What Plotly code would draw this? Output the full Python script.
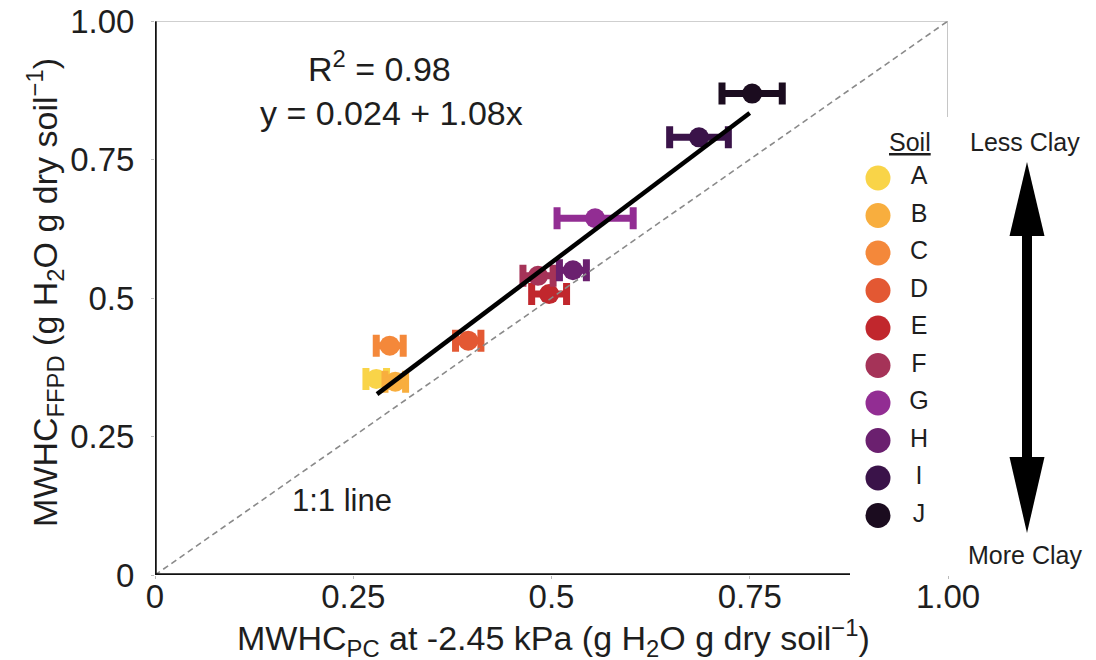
import plotly.graph_objects as go

# ---------------- data ----------------
soils = ["A", "B", "C", "D", "E", "F", "G", "H", "I", "J"]
mwhc_pc = [0.279, 0.303, 0.296, 0.395, 0.497, 0.483, 0.555, 0.527, 0.686, 0.753]
mwhc_ffpd = [0.354, 0.349, 0.414, 0.423, 0.507, 0.540, 0.644, 0.550, 0.790, 0.869]
mwhc_pc_err = [0.013, 0.013, 0.017, 0.016, 0.022, 0.019, 0.048, 0.017, 0.037, 0.038]
soil_colors = ["#F9D448", "#F8AE3E", "#F4883A", "#E35833", "#C1272D",
               "#A53358", "#922D93", "#6B206F", "#3A1349", "#1B0C1F"]

fit_intercept = 0.024
fit_slope = 1.08
fit_x = [0.28, 0.75]
one_to_one = [0.0, 1.0]

tick_vals = [0, 0.25, 0.5, 0.75, 1.0]
tick_text = ["0", "0.25", "0.5", "0.75", "1.00"]

# ---------------- layout geometry (page pixels) ----------------
PAGE_OFF = 8                      # default body margin of the html page
W, H = 1096 - PAGE_OFF, 660 - PAGE_OFF
PL, PR, PT, PB = 155, 948, 21, 575  # plot area in page pixels
L, T = PL - PAGE_OFF, PT - PAGE_OFF
R = W - (PR - PAGE_OFF)
B = H - (PB - PAGE_OFF)
PW, PH = PR - PL, PB - PT
FONT = "Liberation Sans, Arial, sans-serif"
TXT = "#1e1e1e"


def px_x(p):
    return (p - PL) / PW


def px_y(p):
    return (PB - p) / PH


fig = go.Figure()

for s, x, y, e, c in zip(soils, mwhc_pc, mwhc_ffpd, mwhc_pc_err, soil_colors):
    fig.add_trace(go.Scatter(
        x=[x], y=[y], mode="markers", name=s, showlegend=False,
        marker=dict(size=20, color=c, line=dict(width=0)),
        error_x=dict(type="data", array=[e], color=c, thickness=7, width=11),
        cliponaxis=False,
    ))

# 1:1 line
fig.add_trace(go.Scatter(
    x=one_to_one, y=one_to_one, mode="lines", showlegend=False,
    line=dict(color="#8a8a8a", width=1.6, dash="6px,4px"),
))

# regression line
fit_y = [fit_intercept + fit_slope * v for v in fit_x]
fig.add_trace(go.Scatter(
    x=fit_x, y=fit_y, mode="lines", showlegend=False,
    line=dict(color="black", width=4.5),
))

# ---------------- custom legend (overlaid axes) ----------------
row0, row_step = 178, 37.5
leg_idx = list(range(len(soils)))
leg_marker_x = [px_x(878)] * len(soils)
leg_text_x = [px_x(919)] * len(soils)
fig.add_trace(go.Scatter(
    x=leg_marker_x, y=leg_idx, mode="markers", xaxis="x2", yaxis="y2",
    marker=dict(size=25, color=soil_colors), showlegend=False, cliponaxis=False,
))
fig.add_trace(go.Scatter(
    x=leg_text_x, y=leg_idx, mode="text", text=soils, xaxis="x2", yaxis="y2",
    textposition="middle center", textfont=dict(size=25, color=TXT, family=FONT),
    showlegend=False, cliponaxis=False,
))
y2_top = -(row0 - PT) / row_step
y2_bot = (PB - row0) / row_step

# ---------------- shapes ----------------
shapes = [
    dict(type="line", xref="x", yref="y", x0=0, x1=0, y0=0, y1=1,
         line=dict(color="#111", width=3.5)),
    dict(type="line", xref="x", yref="y", x0=0, x1=px_x(850), y0=0, y1=0,
         line=dict(color="#111", width=3.5)),
    dict(type="line", xref="x", yref="y", x0=0, x1=1, y0=1, y1=1,
         line=dict(color="#a0a0a0", width=1.2)),
    dict(type="line", xref="x", yref="y", x0=1, x1=1, y0=1, y1=px_y(117),
         line=dict(color="#a0a0a0", width=1.2)),
]

ax = 1027
shapes.append(dict(type="path", xref="paper", yref="paper",
                   path=f"M {px_x(ax)},{px_y(162)} L {px_x(ax-17.5)},{px_y(236)} "
                        f"L {px_x(ax+17.5)},{px_y(236)} Z",
                   fillcolor="black", line=dict(width=0)))
shapes.append(dict(type="path", xref="paper", yref="paper",
                   path=f"M {px_x(ax)},{px_y(533)} L {px_x(ax-17.5)},{px_y(457)} "
                        f"L {px_x(ax+17.5)},{px_y(457)} Z",
                   fillcolor="black", line=dict(width=0)))
shapes.append(dict(type="rect", xref="paper", yref="paper",
                   x0=px_x(ax - 5), x1=px_x(ax + 5), y0=px_y(462), y1=px_y(230),
                   fillcolor="black", line=dict(width=0)))


# ---------------- annotations ----------------
def note(text, x, y, size, **kw):
    return dict(text=text, x=px_x(x), y=px_y(y), xref="paper", yref="paper",
                xanchor="center", yanchor="middle", showarrow=False,
                font=dict(size=size, color=TXT, family=FONT), **kw)


ann = [
    note("R<sup>2</sup> = 0.98", 379, 67, 34),
    note("y = 0.024 + 1.08x", 391, 113, 34),
    note("1:1 line", 342, 500, 31),
    note("MWHC<sub>FFPD</sub> (g H<sub>2</sub>O g dry soil<sup>\u22121</sup>)", 45, 293, 34,
         textangle=-90),
    note("MWHC<sub>PC</sub> at -2.45 kPa (g H<sub>2</sub>O g dry soil<sup>\u22121</sup>)",
         553, 638, 34),
    note("<u>Soil</u>", 910, 142, 25),
    note("Less Clay", 1025, 142, 25),
    note("More Clay", 1025, 555, 25),
]

axis_common = dict(range=[0, 1], tickvals=tick_vals, ticktext=tick_text,
                   showgrid=False, zeroline=False, showline=False, automargin=False,
                   ticks="outside", ticklen=3, tickcolor="#bbbbbb",
                   ticklabeloverflow="allow",
                   tickfont=dict(size=33, color=TXT, family=FONT), fixedrange=True)

fig.update_layout(
    template="none",
    width=W, height=H, autosize=False,
    margin=dict(l=L, r=R, t=T, b=B, pad=0),
    paper_bgcolor="white", plot_bgcolor="white",
    font=dict(family=FONT, color=TXT),
    xaxis=dict(**axis_common, ticklabelstandoff=-11),
    yaxis=dict(**axis_common, ticklabelstandoff=10),
    xaxis2=dict(overlaying="x", range=[0, 1], visible=False, anchor="y2",
                automargin=False, fixedrange=True),
    yaxis2=dict(overlaying="y", range=[y2_bot, y2_top], visible=False, anchor="x2",
                automargin=False, fixedrange=True),
    shapes=shapes,
    annotations=ann,
    showlegend=False,
)

fig.write_html("out.html")
